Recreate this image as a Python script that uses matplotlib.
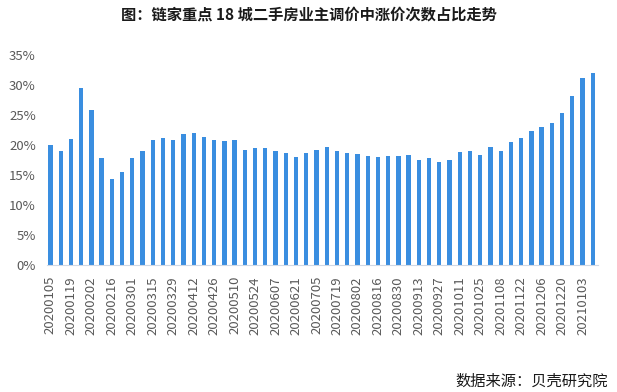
import matplotlib
matplotlib.use("Agg")
import matplotlib.pyplot as plt
from matplotlib.ticker import PercentFormatter
import datetime as dt

plt.rcParams['font.family'] = ['Noto Sans CJK SC', 'DejaVu Sans']

# 周度日期：20200105 起，每周一根柱子
start = dt.date(2020, 1, 5)
dates = [(start + dt.timedelta(weeks=i)).strftime('%Y%m%d') for i in range(54)]

# 涨价次数占比（%）
values = [20.0, 19.0, 21.0, 29.5, 25.9, 17.9, 14.4, 15.5, 17.9, 19.0,
          20.8, 21.2, 20.8, 21.8, 22.0, 21.3, 20.8, 20.7, 20.8, 19.2,
          19.5, 19.5, 19.0, 18.7, 18.0, 18.7, 19.2, 19.7, 19.0, 18.7,
          18.5, 18.2, 18.0, 18.2, 18.2, 18.3, 17.5, 17.8, 17.2, 17.5,
          18.8, 19.0, 18.3, 19.7, 19.0, 20.5, 21.2, 22.4, 23.0, 23.7,
          25.3, 28.2, 31.2, 32.0]

title = '图：链家重点 18 城二手房业主调价中涨价次数占比走势'
source = '数据来源：贝壳研究院'

fig = plt.figure(figsize=(6.17, 3.92), dpi=100)
ax = fig.add_axes([0.076, 0.324, 0.893, 0.536])

x = list(range(len(values)))
ax.bar(x, values, width=0.42, color='#3a8ee0')

ax.set_ylim(0, 35)
ax.set_yticks(range(0, 36, 5))
ax.yaxis.set_major_formatter(PercentFormatter(decimals=0))
ax.set_xlim(-0.35, 53.5)
ax.set_xticks(x[::2])
ax.set_xticklabels(dates[::2], rotation=90)

for s in ['top', 'right', 'left']:
    ax.spines[s].set_visible(False)
ax.spines['bottom'].set_color('#d0d8e4')
ax.tick_params(length=0, colors='#595959', labelsize=9.5)
ax.tick_params(axis='y', pad=8)
ax.tick_params(axis='x', pad=8)

fig.text(0.5, 0.964, title, ha='center', va='center', fontsize=11,
         fontweight='bold', color='#1a1a1a')
fig.text(0.985, 0.028, source, ha='right', va='center', fontsize=11,
         color='#1a1a1a')

fig.savefig('out.png', dpi=100)
